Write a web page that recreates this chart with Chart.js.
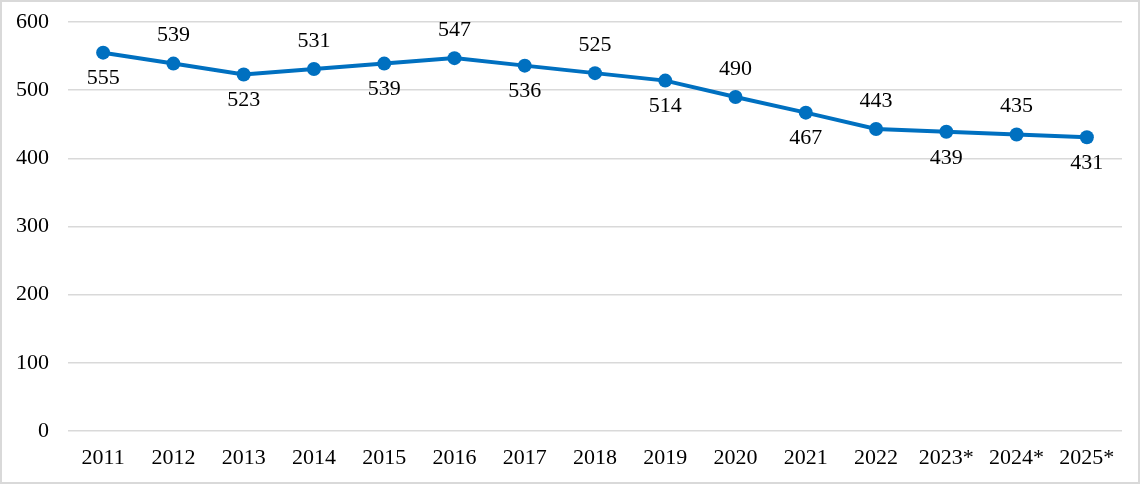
<!DOCTYPE html>
<html>
<head>
<meta charset="utf-8">
<script src="https://cdn.jsdelivr.net/npm/chart.js@4/dist/chart.umd.min.js"></script>
<style>
  html, body { margin: 0; padding: 0; background: #fff; }
  #wrap { position: relative; width: 1140px; height: 484px; box-sizing: border-box; border: 2px solid #d9d9d9; }
  canvas { display: block; }
</style>
</head>
<body>
<div id="wrap"><canvas id="lineChart" width="1136" height="480"></canvas></div>
<script>
const years = ['2011', '2012', '2013', '2014', '2015', '2016', '2017', '2018', '2019', '2020', '2021', '2022', '2023*', '2024*', '2025*'];
const values = [555, 539, 523, 531, 539, 547, 536, 525, 514, 490, 467, 443, 439, 435, 431];
// label below (true) or above (false) the point
const labelBelow = [true, false, true, false, true, false, true, false, true, false, true, false, true, false, true];

const fontFamily = '"Liberation Serif", "Times New Roman", serif';

// draws value labels next to each point
const valueLabels = {
    id: 'valueLabels',
    afterDatasetsDraw(chart) {
        let ctx = chart.ctx;
        let meta = chart.getDatasetMeta(0);
        ctx.save();
        ctx.font = '22px ' + fontFamily;
        ctx.fillStyle = '#000';
        ctx.textAlign = 'center';
        ctx.textBaseline = 'middle';
        meta.data.forEach((pt, i) => {
            let dy = labelBelow[i] ? 26 : -28;
            ctx.fillText(values[i], pt.x, pt.y + dy);
        });
        ctx.restore();
    }
};

let ctx = document.getElementById('lineChart').getContext('2d');
let chart = new Chart(ctx, {
    type: 'line',
    data: {
        labels: years,
        datasets: [{
            data: values,
            borderColor: '#0070c0',
            backgroundColor: '#0070c0',
            borderWidth: 4,
            pointRadius: 7,
            pointHoverRadius: 7,
            pointBorderWidth: 0,
            tension: 0
        }]
    },
    options: {
        responsive: false,
        animation: false,
        layout: { padding: { top: 20, right: 16, bottom: 0, left: 0 } },
        plugins: {
            legend: { display: false },
            tooltip: { enabled: false }
        },
        scales: {
            x: {
                offset: true,
                afterFit(scale) { scale.height = 51; },
                grid: { display: false, drawTicks: false },
                border: { display: false },
                ticks: { color: '#000', font: { family: fontFamily, size: 22 }, padding: 14, maxRotation: 0, autoSkip: false }
            },
            y: {
                min: 0,
                max: 600,
                afterFit(scale) { scale.width = 66; scale.paddingTop = 0; scale.paddingBottom = 0; },
                grid: { color: '#d9d9d9', lineWidth: 1.5, drawTicks: false },
                border: { display: false },
                ticks: { stepSize: 100, color: '#000', font: { family: fontFamily, size: 22 }, padding: 19 }
            }
        }
    },
    plugins: [valueLabels]
});
</script>
</body>
</html>
